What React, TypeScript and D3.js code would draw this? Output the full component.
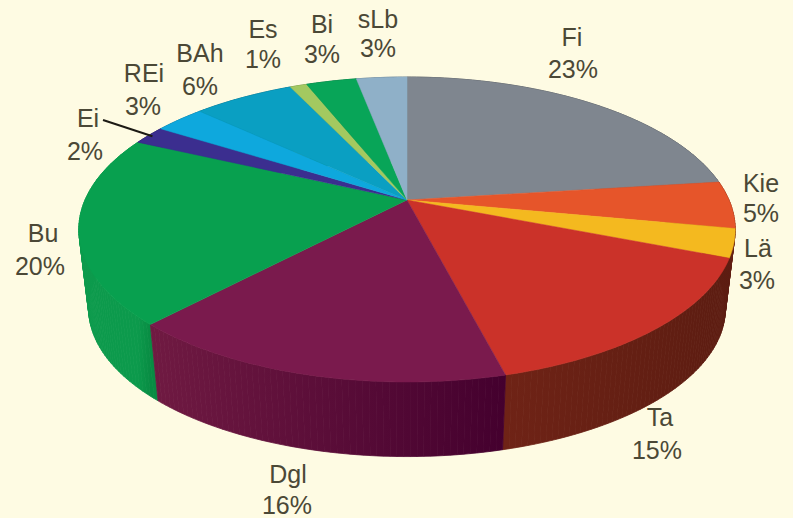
import React from "react";
import * as d3 from "d3";

// Share of each category, clockwise from twelve o'clock
const categories = ["Fi", "Kie", "Lä", "Ta", "Dgl", "Bu", "Ei", "REi", "BAh", "Es", "Bi", "sLb"];
const shares = [23, 5, 3, 15, 16, 20, 2, 3, 6, 1, 3, 3];

const topColors = ["#7f868f", "#e6552a", "#f4b91f", "#cb3229", "#7a1a4d", "#08a04f", "#3b2e8f", "#0ea8dd", "#0a9fc2", "#a3c960", "#08a558", "#8fb0c8"];
const wallStart = ["#4d4f55", "#7c2a10", "#6b2012", "#5c1c11", "#44002e", "#088c43", "#231a5c", "#086c8e", "#06667c", "#66803c", "#066a38", "#5c7180"];
const wallEnd = ["#4d4f55", "#8a3114", "#5c1c11", "#6f2316", "#701a42", "#0c9a4c", "#231a5c", "#086c8e", "#06667c", "#66803c", "#066a38", "#5c7180"];

// Label anchors: centre x with the baselines of the name and the percentage
const labelLayout: Record<string, [number, number, number, number]> = {
  Fi: [572, 46, 573, 78],
  Kie: [761, 192, 761, 222],
  "Lä": [758, 257, 757, 289],
  Ta: [660, 426, 657, 459],
  Dgl: [288, 483, 287, 514],
  Bu: [43, 242, 40, 275],
  Ei: [88, 127, 85, 160],
  REi: [144, 82, 143, 115],
  BAh: [200, 62, 200, 95],
  Es: [263, 38, 263, 68],
  Bi: [322, 33, 322, 63],
  sLb: [378, 28, 378, 57],
};

const WIDTH = 793;
const HEIGHT = 518;
const CX = 407;
const APEX_Y = 200;
const RADIUS = 322;
const PITCH = 146.8; // vertical reach of the disc before perspective
const PERSPECTIVE = 0.1935; // how strongly the near edge grows
const BASE_Y = 280;
const BASE_SCALE = 0.97;
const STEP = Math.PI / 180;

type Pt = [number, number];

// Projects a point on the unit disc onto the tilted top face
function projectTop(angle: number, r = 1): Pt {
  const u = Math.sin(angle) * r;
  const v = -Math.cos(angle) * r;
  const w = 1 - PERSPECTIVE * v;
  return [CX + (RADIUS * u) / w, APEX_Y + (PITCH * v) / w];
}

// The lower rim is the same curve, slightly smaller and pushed down
function projectBase(angle: number): Pt {
  const [x, y] = projectTop(angle);
  return [CX + (x - CX) * BASE_SCALE, BASE_Y + (y - APEX_Y) * BASE_SCALE];
}

const arcs = d3
  .pie<number>()
  .sort(null)
  .startAngle(0)
  .endAngle(2 * Math.PI)(shares);

const path = d3.line<Pt>();

function rimAngles(a0: number, a1: number): number[] {
  const n = Math.max(2, Math.ceil((a1 - a0) / STEP));
  return d3.range(n + 1).map((i) => a0 + ((a1 - a0) * i) / n);
}

function Walls() {
  // Side panels are built from narrow quads so the silhouette stays closed where
  // the rim turns away; all quads of a slice share one horizontal shade
  const panels = arcs
    .map((arc, i) => {
      const angles = rimAngles(arc.startAngle, arc.endAngle);
      return {
        i,
        depth: projectTop((arc.startAngle + arc.endAngle) / 2)[1],
        x1: projectTop(arc.startAngle)[0],
        x2: projectTop(arc.endAngle)[0],
        quads: angles
          .slice(1)
          .map((a1, k) => path([projectTop(angles[k]), projectTop(a1), projectBase(a1), projectBase(angles[k])]) + "Z"),
      };
    })
    .sort((a, b) => a.depth - b.depth);
  return (
    <g>
      <defs>
        {panels.map((p) => (
          <linearGradient key={p.i} id={`wall-${p.i}`} gradientUnits="userSpaceOnUse" x1={p.x1} x2={p.x2} y1={0} y2={0}>
            <stop offset="0" stopColor={wallStart[p.i]} />
            <stop offset="1" stopColor={wallEnd[p.i]} />
          </linearGradient>
        ))}
      </defs>
      {panels.map((p) => (
        <g key={p.i} fill={`url(#wall-${p.i})`} stroke={`url(#wall-${p.i})`} strokeWidth={0.8}>
          {p.quads.map((d, k) => (
            <path key={k} d={d} />
          ))}
        </g>
      ))}
    </g>
  );
}

function TopFace() {
  return (
    <g>
      {arcs.map((arc, i) => {
        const rim = rimAngles(arc.startAngle, arc.endAngle).map((a) => projectTop(a));
        const outline = [projectTop(0, 0), ...rim];
        return <path key={categories[i]} d={path(outline) + "Z"} fill={topColors[i]} stroke={topColors[i]} strokeWidth={0.5} />;
      })}
    </g>
  );
}

function Labels() {
  return (
    <g fontFamily="'Liberation Sans', Arial, sans-serif" fontSize={25} fill="#4b4836" textAnchor="middle">
      {categories.map((name, i) => {
        const [x1, y1, x2, y2] = labelLayout[name];
        return (
          <g key={name}>
            <text x={x1} y={y1}>{name}</text>
            <text x={x2} y={y2}>{`${shares[i]}%`}</text>
          </g>
        );
      })}
    </g>
  );
}

export default function App() {
  // The Ei label sits off its thin slice, so a leader ties the two together
  const ei = arcs[categories.indexOf("Ei")];
  const leaderEnd = projectTop((ei.startAngle + ei.endAngle) / 2, 0.985);
  return (
    <svg
      width={WIDTH}
      height={HEIGHT}
      viewBox={`0 0 ${WIDTH} ${HEIGHT}`}
      style={{ position: "absolute", left: 0, top: 0, display: "block" }}
    >
      <rect width={WIDTH} height={HEIGHT} fill="#fefbe3" />
      <Walls />
      <TopFace />
      <line x1={103} y1={120} x2={leaderEnd[0]} y2={leaderEnd[1]} stroke="#1c1a14" strokeWidth={2} />
      <Labels />
    </svg>
  );
}
